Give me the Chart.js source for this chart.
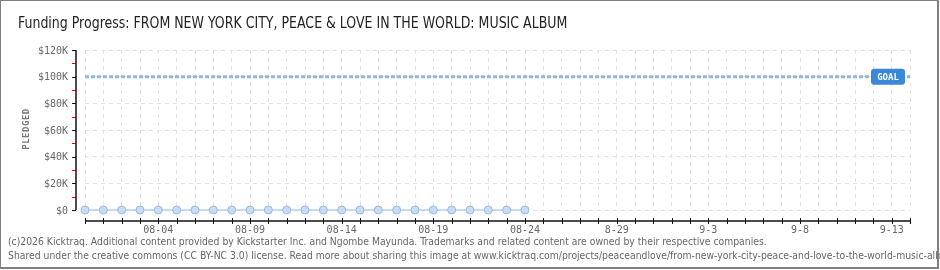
<!DOCTYPE html>
<html>
<head>
<meta charset="utf-8">
<script src="https://cdn.jsdelivr.net/npm/chart.js@4/dist/chart.umd.min.js"></script>
<style>
  html, body { margin: 0; padding: 0; background: #fff; }
  #frame { position: absolute; left: 0; top: 0; width: 940px; height: 270px; overflow: hidden; }
  #border { position: absolute; left: 0; top: 0; width: 939px; height: 269px; box-sizing: border-box;
            border: 2px solid #808080; border-left-width: 1px; border-top-width: 1px; pointer-events: none; }
  canvas { position: absolute; left: 0; top: 0; }
  #title { position: absolute; left: 18px; top: 13px; white-space: nowrap; transform-origin: 0 0;
           font-family: "DejaVu Sans Condensed", "Liberation Sans Narrow", "Roboto Condensed", Roboto, sans-serif;
           font-size: 16px; color: #222; }
  .foot { position: absolute; left: 8px; white-space: nowrap; transform-origin: 0 0;
          font-family: "DejaVu Sans", Verdana, sans-serif; font-size: 10px; color: #666; }
</style>
</head>
<body>
<div id="frame">
  <canvas id="chart" width="940" height="270"></canvas>
  <div id="title">Funding Progress: FROM NEW YORK CITY, PEACE &amp; LOVE IN THE WORLD: MUSIC ALBUM</div>
  <div class="foot" id="foot1" style="top:236px">(c)2026 Kicktraq. Additional content provided by Kickstarter Inc. and Ngombe Mayunda. Trademarks and related content are owned by their respective companies.</div>
  <div class="foot" id="foot2" style="top:250px">Shared under the creative commons (CC BY-NC 3.0) license. Read more about sharing this image at www.kicktraq.com/projects/peaceandlove/from-new-york-city-peace-and-love-to-the-world-music-album/</div>
  <div id="border"></div>
</div>
<script>
// Campaign days (07-31 through 09-14)
const days = [
  '07-31','08-01','08-02','08-03','08-04','08-05','08-06','08-07','08-08','08-09',
  '08-10','08-11','08-12','08-13','08-14','08-15','08-16','08-17','08-18','08-19',
  '08-20','08-21','08-22','08-23','08-24','08-25','08-26','08-27','08-28','08-29',
  '08-30','08-31','09-01','09-02','09-03','09-04','09-05','09-06','09-07','09-08',
  '09-09','09-10','09-11','09-12','09-13','09-14'
];
// Labelled days on the x axis and the text printed under them
const labelledDays = ['08-04','08-09','08-14','08-19','08-24','08-29','09-03','09-08','09-13'];
const dayLabels    = ['08-04','08-09','08-14','08-19','08-24','8-29','9-3','9-8','9-13'];

// Pledged totals recorded so far (USD)
const pledged = [0,0,0,0,0,0,0,0,0,0,0,0,0,0,0,0,0,0,0,0,0,0,0,0,0];
// Funding goal (USD)
const goal = 100000;

// Y axis ticks
const yTicks = [0,10000,20000,30000,40000,50000,60000,70000,80000,90000,100000,110000,120000];
const yLabels = {0:'$0',20000:'$20K',40000:'$40K',60000:'$60K',80000:'$80K',100000:'$100K',120000:'$120K'};

const goalSeries = days.map(() => goal);

const axisFont = '10px "DejaVu Sans Mono", monospace';

const axesPlugin = {
  id: 'axes',
  afterDraw(chart) {
    const { ctx, chartArea: a, scales: { x, y } } = chart;
    ctx.save();
    // y axis line and ticks
    const yx = a.left - 9;
    yTicks.forEach(v => {
      const py = Math.round(y.getPixelForValue(v)) + 0.5;
      ctx.strokeStyle = (v % 20000 === 0) ? '#111' : '#e00000';
      ctx.lineWidth = 1;
      ctx.beginPath();
      ctx.moveTo(yx - 4, py);
      ctx.lineTo(yx, py);
      ctx.stroke();
    });
    ctx.strokeStyle = '#111';
    ctx.lineWidth = 1.5;
    ctx.beginPath();
    ctx.moveTo(yx, y.getPixelForValue(120000));
    ctx.lineTo(yx, y.getPixelForValue(0));
    ctx.stroke();
    ctx.fillStyle = '#666';
    ctx.font = axisFont;
    ctx.textAlign = 'right';
    ctx.textBaseline = 'middle';
    yTicks.forEach(v => {
      if (yLabels[v] !== undefined) ctx.fillText(yLabels[v], yx - 8, y.getPixelForValue(v) + 1);
    });
    // y axis title
    ctx.save();
    ctx.translate(27, (a.top + a.bottom) / 2 - 1);
    ctx.rotate(-Math.PI / 2);
    ctx.font = 'bold 9px "DejaVu Sans Mono", monospace';
    ctx.letterSpacing = '0.5px';
    ctx.textAlign = 'center';
    ctx.fillStyle = '#777';
    ctx.fillText('PLEDGED', 0, 0);
    ctx.restore();

    // x axis line and ticks
    const xy = a.bottom + 11;
    ctx.strokeStyle = '#111';
    ctx.lineWidth = 1.5;
    ctx.beginPath();
    ctx.moveTo(x.getPixelForValue(0), xy);
    ctx.lineTo(x.getPixelForValue(days.length - 1), xy);
    ctx.stroke();
    ctx.lineWidth = 1;
    days.forEach((d, i) => {
      const px = Math.round(x.getPixelForValue(i)) + 0.5;
      ctx.beginPath();
      ctx.moveTo(px, xy - 3);
      ctx.lineTo(px, xy + 3);
      ctx.stroke();
    });
    ctx.textAlign = 'center';
    ctx.textBaseline = 'top';
    ctx.font = axisFont;
    labelledDays.forEach((d, k) => {
      const i = days.indexOf(d);
      ctx.fillText(dayLabels[k], x.getPixelForValue(i), xy + 4);
    });

    // goal marker
    const gy = y.getPixelForValue(goal);
    const bw = 34, bh = 16, bx = a.right - 5 - bw, by = gy - bh / 2;
    ctx.fillStyle = '#3b88d8';
    ctx.beginPath();
    ctx.roundRect(bx, by, bw, bh, 3);
    ctx.fill();
    ctx.fillStyle = '#fff';
    ctx.font = 'bold 9px "DejaVu Sans Mono", monospace';
    ctx.textAlign = 'center';
    ctx.textBaseline = 'middle';
    ctx.fillText('GOAL', bx + bw / 2, gy + 0.5);
    ctx.restore();
  }
};

new Chart(document.getElementById('chart'), {
  type: 'line',
  data: {
    labels: days,
    datasets: [
      {
        label: 'Goal',
        data: goalSeries,
        borderColor: '#94b6de',
        borderWidth: 3,
        borderDash: [4, 2],
        pointRadius: 0,
        fill: false,
        order: 2
      },
      {
        label: 'Pledged',
        data: pledged,
        borderColor: '#b3d1f3',
        borderWidth: 1.5,
        backgroundColor: '#c6ddf7',
        pointBackgroundColor: '#c6ddf7',
        pointBorderColor: '#9db8d8',
        pointBorderWidth: 1,
        pointRadius: 4,
        fill: false,
        clip: false,
        order: 1
      }
    ]
  },
  options: {
    responsive: false,
    animation: false,
    layout: { padding: { left: 85, top: 50, right: 30, bottom: 60 } },
    plugins: { legend: { display: false }, tooltip: { enabled: false } },
    scales: {
      x: {
        type: 'category',
        offset: false,
        ticks: { display: false, autoSkip: false },
        grid: { color: '#e2e2e2', lineWidth: 1, drawTicks: false },
        border: { display: false, dash: [4, 4] },
        afterFit(s) { s.height = 0; }
      },
      y: {
        min: 0,
        max: 120000,
        afterBuildTicks(s) { s.ticks = yTicks.map(v => ({ value: v })); },
        ticks: { display: false },
        grid: {
          color: c => (c.tick && c.tick.value % 20000 === 0) ? '#e2e2e2' : 'rgba(0,0,0,0)',
          lineWidth: 1,
          drawTicks: false
        },
        border: { display: false, dash: [4, 4] },
        afterFit(s) { s.width = 0; }
      }
    }
  },
  plugins: [axesPlugin]
});

// Fit header and footer text to their line widths
function fitWidth(id, w) {
  const el = document.getElementById(id);
  const s = w / el.scrollWidth;
  el.style.transform = 'scaleX(' + s + ')';
  return s;
}
fitWidth('title', 549);
const fs = fitWidth('foot1', 759);
document.getElementById('foot2').style.transform = 'scaleX(' + fs + ')';
</script>
</body>
</html>
